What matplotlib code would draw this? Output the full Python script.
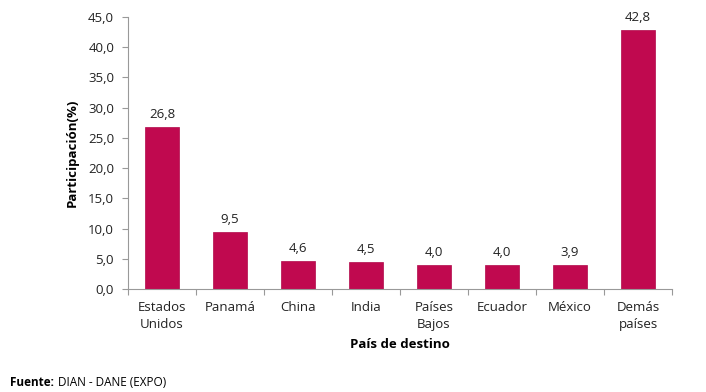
import matplotlib.pyplot as plt

paises = ["Estados\nUnidos", "Panamá", "China", "India", "Países\nBajos", "Ecuador", "México", "Demás\npaíses"]
participacion = [26.8, 9.5, 4.6, 4.5, 4.0, 4.0, 3.9, 42.8]
yticks = [0, 5, 10, 15, 20, 25, 30, 35, 40, 45]

plt.rcParams['font.family'] = ['Open Sans', 'DejaVu Sans']

fig = plt.figure(figsize=(7.06, 3.92), dpi=100)
ax = fig.add_axes([0.1813, 0.2628, 0.7707, 0.6938])

x = range(len(paises))
bars = ax.bar(x, participacion, width=0.49, color='#C0094F', edgecolor='#B0084A', linewidth=0.5)
for i, v in enumerate(participacion):
    ax.text(i, v + 1.0, f"{v:.1f}".replace('.', ','), ha='center', va='bottom', fontsize=9.5, color='#222222')

ax.set_xlim(-0.5, len(paises) - 0.5)
ax.set_ylim(0, 45)
ax.set_yticks(yticks)
ax.set_yticklabels([f"{t:.1f}".replace('.', ',') for t in yticks], fontsize=9.5, color='#222222')
ax.set_xticks([i - 0.5 for i in range(len(paises) + 1)], minor=False)
ax.set_xticklabels([])
ax.set_xticks(list(x), minor=True)
ax.set_xticklabels(paises, minor=True, fontsize=9.5, color='#222222', linespacing=1.35)
ax.tick_params(axis='x', which='minor', length=0, pad=9)
ax.tick_params(axis='x', which='major', length=4, color='#999999')
ax.tick_params(axis='y', length=4, color='#999999', pad=6)

for s in ['top', 'right']:
    ax.spines[s].set_visible(False)
for s in ['left', 'bottom']:
    ax.spines[s].set_color('#999999')
    ax.spines[s].set_linewidth(0.8)

ax.set_ylabel("Participación(%)", fontsize=9.5, fontweight='bold', labelpad=7)
ax.set_xlabel("País de destino", fontsize=9.5, fontweight='bold', labelpad=5)

t1 = fig.text(0.014, 0.008, "Fuente:", fontsize=8.5, fontweight='bold', va='bottom')
fig.canvas.draw()
bb = t1.get_window_extent().transformed(fig.transFigure.inverted())
fig.text(bb.x1 + 0.006, 0.008, "DIAN - DANE (EXPO)", fontsize=8.5, va='bottom')

fig.savefig("out.png", dpi=100)
